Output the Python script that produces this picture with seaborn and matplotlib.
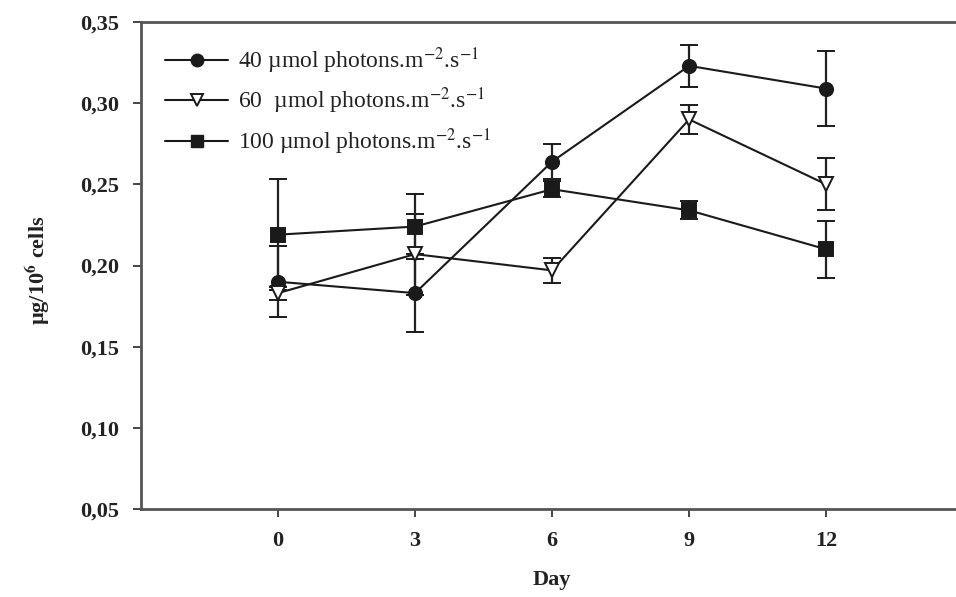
import numpy as np
import pandas as pd
import matplotlib
matplotlib.use("Agg")
import matplotlib.pyplot as plt
from matplotlib.lines import Line2D
import seaborn as sns

# Sampling days
days = [0, 3, 6, 9, 12]

# Mean content per light intensity (µg / 10^6 cells)
mean_40 = [0.190, 0.183, 0.264, 0.323, 0.309]
mean_60 = [0.183, 0.207, 0.197, 0.290, 0.250]
mean_100 = [0.219, 0.224, 0.247, 0.234, 0.210]

# Standard deviations
err_40 = [0.022, 0.024, 0.011, 0.013, 0.023]
err_60 = [0.004, 0.025, 0.0075, 0.009, 0.016]
err_100 = [0.034, 0.020, 0.005, 0.0055, 0.0175]

series_labels = [
    "40 µmol photons.m$^{-2}$.s$^{-1}$",
    "60  µmol photons.m$^{-2}$.s$^{-1}$",
    "100 µmol photons.m$^{-2}$.s$^{-1}$",
]

y_ticks = [0.05, 0.10, 0.15, 0.20, 0.25, 0.30, 0.35]
y_tick_labels = ["0,05", "0,10", "0,15", "0,20", "0,25", "0,30", "0,35"]
x_ticks = [0, 3, 6, 9, 12]

sns.set_theme(style="white")
plt.rcParams["font.family"] = ["Liberation Serif", "DejaVu Serif"]
plt.rcParams["mathtext.fontset"] = "stix"

INK = "#1a1a1a"

frames = []
for lab, m in zip(series_labels, [mean_40, mean_60, mean_100]):
    frames.append(pd.DataFrame({"Day": days, "value": m, "series": lab}))
df = pd.concat(frames, ignore_index=True)

fig = plt.figure(figsize=(9.56, 5.97), dpi=100)
ax = fig.add_axes([0.1475, 0.1474, 0.86, 0.8157])

# Error bars underneath the lines
for m, e in zip([mean_40, mean_60, mean_100], [err_40, err_60, err_100]):
    ax.errorbar(days, m, yerr=e, fmt="none", ecolor="#222222",
                elinewidth=1.6, capsize=6.5, capthick=1.6, zorder=2)

marker_map = {series_labels[0]: "o", series_labels[1]: "v", series_labels[2]: "s"}
sns.lineplot(data=df, x="Day", y="value", hue="series", style="series",
             palette=[INK] * 3, markers=marker_map, dashes=False,
             linewidth=1.5, markersize=9.5, ax=ax, zorder=3, legend=False)

# Open triangles for the 60 µmol series
for line in ax.get_lines():
    if line.get_marker() == "v":
        line.set_markerfacecolor("white")
    line.set_markeredgecolor(INK)
    line.set_markeredgewidth(1.4)

# Legend entries
handles = [
    Line2D([], [], color=INK, lw=1.5, marker="o", ms=9, mfc=INK, mec=INK),
    Line2D([], [], color=INK, lw=1.5, marker="v", ms=9, mfc="white", mec=INK, mew=1.4),
    Line2D([], [], color=INK, lw=1.5, marker="s", ms=9, mfc=INK, mec=INK),
]
leg = ax.legend(handles, series_labels, loc="upper left", frameon=False,
                prop={"size": 17}, handlelength=2.65, handletextpad=0.42,
                labelspacing=0.42, bbox_to_anchor=(0.018, 0.972),
                borderaxespad=0.0, borderpad=0.4)
for t in leg.get_texts():
    t.set_color("#222222")

ax.set_xlim(-3, 15)
ax.set_ylim(0.05, 0.35)
ax.set_xticks(x_ticks)
ax.set_xticklabels([str(d) for d in x_ticks])
ax.set_yticks(y_ticks)
ax.set_yticklabels(y_tick_labels)

for lbl in ax.get_xticklabels() + ax.get_yticklabels():
    lbl.set_fontweight("bold")
    lbl.set_fontsize(16)
    lbl.set_color("#222222")

ax.tick_params(axis="both", direction="out", length=6, width=1.4,
               color="#444444", bottom=True, left=True, top=False, right=False, pad=10)

for side in ["left", "bottom", "top", "right"]:
    ax.spines[side].set_color("#555555")
    ax.spines[side].set_linewidth(2)

ax.set_xlabel("Day", fontsize=16, fontweight="bold", color="#222222")
ax.xaxis.set_label_coords(0.5, -0.125)
ax.set_ylabel(r"µg/10$^{\mathbf{6}}$ cells", fontsize=16, fontweight="bold", color="#222222")
ax.yaxis.set_label_coords(-0.108, 0.49)

fig.savefig("out.png", dpi=100)
